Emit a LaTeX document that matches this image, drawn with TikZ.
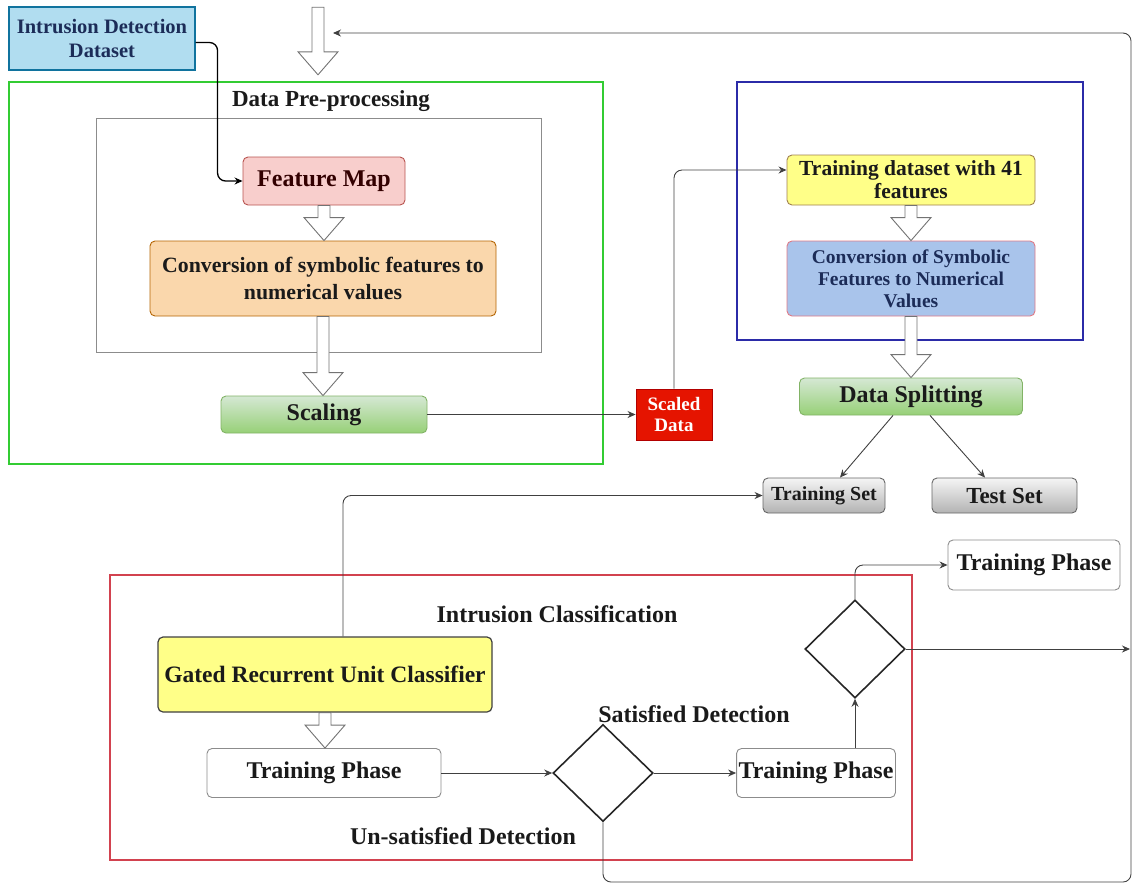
\documentclass[tikz,border=0pt]{standalone}
\usepackage{fontspec}
\setmainfont{Liberation Serif}
\usetikzlibrary{shapes.geometric,calc,arrows.meta}

\definecolor{idsfill}{HTML}{B1DDF0}
\definecolor{idsdraw}{HTML}{10739E}
\definecolor{fmfill}{HTML}{F8CECC}
\definecolor{fmdraw}{HTML}{B85450}
\definecolor{orfill}{HTML}{FAD7AC}
\definecolor{ordraw}{HTML}{B46504}
\definecolor{grtop}{HTML}{D5E8D4}
\definecolor{grbot}{HTML}{97D077}
\definecolor{grdraw}{HTML}{82B366}
\definecolor{scfill}{HTML}{E51400}
\definecolor{scdraw}{HTML}{B20000}
\definecolor{yefill}{HTML}{FFFF88}
\definecolor{yedraw}{HTML}{A08050}
\definecolor{bufill}{HTML}{A9C4EB}
\definecolor{budraw}{HTML}{E07A86}
\definecolor{gytop}{HTML}{F5F5F5}
\definecolor{gybot}{HTML}{B3B3B3}
\definecolor{gydraw}{HTML}{666666}
\definecolor{frgreen}{HTML}{33CC33}
\definecolor{frblue}{HTML}{2B2BA8}
\definecolor{frred}{HTML}{D2424F}
\definecolor{navytxt}{HTML}{1C2C58}
\definecolor{darktxt}{HTML}{1A1A1A}

\newcommand{\fsz}[2]{\fontsize{#1}{#2}\selectfont}

% hollow block arrow from the bottom of one node to the top of another
\newcommand{\blockarrow}[2]{%
  \draw[blockarr] let \p1=(#1.south), \p2=(#2.north) in
    (\x1-6pt,\y1) -- (\x1+6pt,\y1) -- (\x1+6pt,\y2+23pt) -- (\x1+20pt,\y2+23pt)
    -- (\x1,\y2) -- (\x1-20pt,\y2+23pt) -- (\x1-6pt,\y2+23pt) -- cycle;}

\tikzset{
  box/.style={rectangle, rounded corners=5pt, draw, line width=0.9pt, align=center,
    inner sep=2pt, text=darktxt, font=\bfseries},
  frame/.style={rectangle, line width=1.3pt, inner sep=0pt},
  label/.style={font=\bfseries\fsz{23}{26}, text=darktxt, inner sep=0pt},
  conn/.style={draw=black!75, line width=0.9pt, -{Stealth[length=8pt,width=7pt]}},
  blockarr/.style={draw=black!55, fill=white, line width=0.9pt},
  decision/.style={diamond, draw=black!85, line width=1.6pt, inner sep=0pt},
  phase/.style={box, draw=black!45, fill=white, font=\bfseries\fsz{24}{26}},
}

\begin{document}
\begin{tikzpicture}[x=1pt,y=-1pt]
\useasboundingbox (0,0) rectangle (1132,884);

% group frames
\node[frame, draw=frgreen, minimum width=594pt, minimum height=382pt] (pre) at (306,273) {};
\node[frame, draw=black!45, line width=1pt, minimum width=445pt, minimum height=234pt] (inner) at (318.5,235) {};
\node[frame, draw=frblue, minimum width=346pt, minimum height=258pt] (prep) at (910,211) {};
\node[frame, draw=frred, minimum width=802pt, minimum height=285pt] (cls) at (511,717.5) {};

\node[label] (lpre) at (331,101) {Data Pre-processing};
\node[label, font=\bfseries\fsz{24}{26}] (lcls) at (557,614) {Intrusion Classification};
\node[label, font=\bfseries\fsz{24}{26}] (lsat) at (694,714) {Satisfied Detection};
\node[label, font=\bfseries\fsz{24}{26}] (luns) at (463,836) {Un-satisfied Detection};

% process boxes
\node[box, rounded corners=0pt, fill=idsfill, draw=idsdraw, line width=1.3pt, text=navytxt,
  minimum width=186pt, minimum height=63pt, font=\bfseries\fsz{20.5}{24}] (ids) at (102,38.5)
  {Intrusion Detection\\Dataset};
\node[box, fill=fmfill, draw=fmdraw, text=black!80!red, minimum width=162pt, minimum height=48pt,
  font=\bfseries\fsz{24}{26}] (fm) at (324,181) {Feature Map};
\node[box, fill=orfill, draw=ordraw, minimum width=346pt, minimum height=75pt,
  font=\bfseries\fsz{21.8}{27}] (conv1) at (323,278.5)
  {Conversion of symbolic features to\\numerical values};
\node[box, top color=grtop, bottom color=grbot, draw=grdraw, minimum width=206pt, minimum height=37pt,
  font=\bfseries\fsz{24}{26}] (scal) at (324,414.5) {Scaling};
\node[box, rounded corners=0pt, fill=scfill, draw=scdraw, text=white, minimum width=76pt,
  minimum height=51pt, inner sep=1pt, font=\bfseries\fsz{19}{21}] (scaled) at (674,414.5) {Scaled\\Data};

\node[box, fill=yefill, draw=yedraw, minimum width=248pt, minimum height=50pt,
  font=\bfseries\fsz{21.5}{23}] (tds) at (911,180) {Training dataset with 41\\features};
\node[box, fill=bufill, draw=budraw, text=navytxt, minimum width=248pt, minimum height=75pt,
  font=\bfseries\fsz{19.5}{22}] (conv2) at (911,278.5)
  {Conversion of Symbolic\\Features to Numerical\\Values};
\node[box, top color=grtop, bottom color=grbot, draw=grdraw, minimum width=223pt, minimum height=37pt,
  font=\bfseries\fsz{24}{26}] (split) at (911,396.5) {Data Splitting};
\node[box, top color=gytop, bottom color=gybot, draw=gydraw, minimum width=122pt, minimum height=35pt,
  font=\bfseries\fsz{20}{22}] (trs) at (824,495.5) {Training Set};
\node[box, top color=gytop, bottom color=gybot, draw=gydraw, minimum width=145pt, minimum height=35pt,
  font=\bfseries\fsz{23}{25}] (tes) at (1004.5,495.5) {Test Set};

\node[box, fill=yefill, draw=black!75, line width=1.2pt, minimum width=334pt, minimum height=75pt,
  font=\bfseries\fsz{23.5}{26}] (gru) at (325,674.5) {Gated Recurrent Unit Classifier};
\node[phase, minimum width=234pt, minimum height=49pt] (tp1) at (324,773) {Training Phase};
\node[decision, minimum width=100pt, minimum height=97pt] (d1) at (603,773) {};
\node[phase, minimum width=158pt, minimum height=49pt] (tp2) at (816,773) {Training Phase};
\node[decision, minimum width=100pt, minimum height=98pt] (d2) at (855,649) {};
\node[phase, minimum width=172pt, minimum height=50pt] (tp3) at (1034,565) {Training Phase};

% free ends of the loop back to the top
\node[inner sep=0pt, minimum size=0pt] (topin) at (318,7) {};
\node[inner sep=0pt, minimum size=0pt] (topout) at (318,75) {};
\coordinate (ret) at (333,33);
\coordinate (tr) at (1131,33);
\coordinate (br) at (1131,882);
\coordinate (rr) at (1130,649);

% hollow flow arrows
\blockarrow{topin}{topout}
\blockarrow{fm}{conv1}
\blockarrow{conv1}{scal}
\blockarrow{tds}{conv2}
\blockarrow{conv2}{split}
\blockarrow{gru}{tp1}

% connectors
\draw[conn, draw=black, line width=1.3pt, rounded corners=8pt]
  ([yshift=-4pt]ids.east) -| ([xshift=-25pt]fm.west) -- (fm.west);
\draw[conn] (scal.east) -- (scaled.west);
\draw[conn, rounded corners=8pt] (scaled.north) |- ([yshift=10pt]tds.west);
\draw[conn] ([xshift=-18pt]split.south) -- ([xshift=16pt]trs.north);
\draw[conn] ([xshift=19pt]split.south) -- ([xshift=-19.5pt]tes.north);
\draw[conn, rounded corners=8pt] ([xshift=18pt]gru.north) |- (trs.west);
\draw[conn] (tp1.east) -- (d1.west);
\draw[conn] (d1.east) -- (tp2.west);
\draw[conn] (tp2.north -| d2.south) -- (d2.south);
\draw[conn, rounded corners=8pt] (d2.north) |- (tp3.west);
\draw[conn] (d2.east) -- (rr);
\draw[conn, rounded corners=8pt] (d1.south) |- (br) -- (tr) -- (ret);

\end{tikzpicture}
\end{document}
